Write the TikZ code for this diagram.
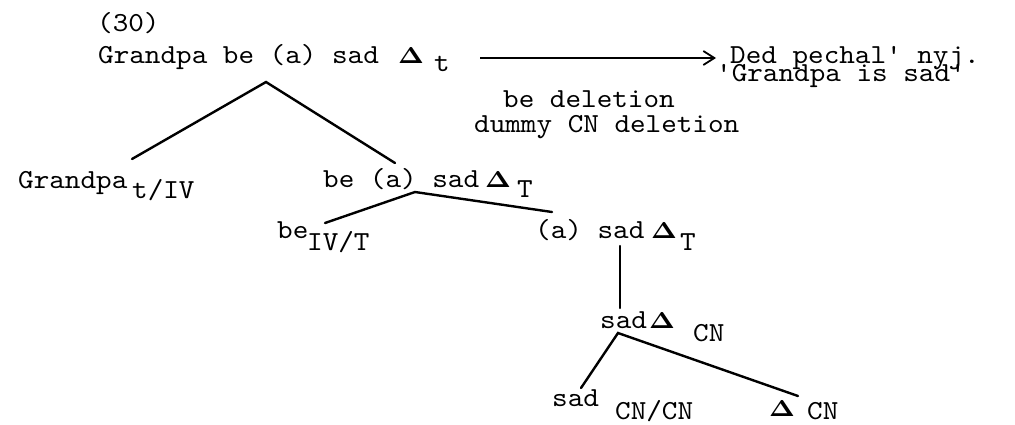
\documentclass[tikz,border=0pt]{standalone}
\usetikzlibrary{arrows.meta}
\newcommand{\mytw}[1]{\scalebox{2.97}[2.75]{\ttfamily\fontsize{10}{12}\selectfont #1}}
\newcommand{\mydelta}{\scalebox{2.7}[2.3]{$\mathbf{\Delta}$}}
\begin{document}
\begin{tikzpicture}[x=1pt,y=-1pt,
  txt/.style={inner sep=0pt, anchor=base west},
  branch/.style={line width=2.4pt, line cap=round},
  rulearrow/.style={line width=1.8pt, -{Straight Barb[length=11pt,width=14pt,line width=1.8pt]}}]
\useasboundingbox (0,0) rectangle (1015,424);
% example number
\node[txt] (num) at (97,31) {\mytw{(30)}};
% root
\node[txt] (root) at (98,63) {\mytw{Grandpa be (a) sad}};
\node[txt] (rootd) at (398,63) {\mydelta};
\node[txt] (roots) at (434,71) {\mytw{t}};
% rule arrow
\coordinate (arrS) at (480,58);
\coordinate (arrE) at (716,58);
\draw[rulearrow] (arrS) -- (arrE);
\node[txt] (ded) at (730,63) {\mytw{Ded pechal' nyj.}};
\node[txt] (gloss) at (716,81) {\mytw{'Grandpa is sad'}};
\node[txt] (rule1) at (503,107) {\mytw{be deletion}};
\node[txt] (rule2) at (474,132) {\mytw{dummy CN deletion}};
% level 1
\coordinate (ap1) at (266,82);
\coordinate (l1) at (132,159);
\coordinate (r1) at (395,163);
\draw[branch] (l1) -- (ap1) -- (r1);
\node[txt] (gp) at (18,188) {\mytw{Grandpa}};
\node[txt] (gps) at (132,198) {\mytw{t/IV}};
\node[txt] (bas) at (323,187) {\mytw{be (a) sad}};
\node[txt] (basd) at (485,187) {\mydelta};
\node[txt] (bass) at (517,197) {\mytw{T}};
% level 2
\coordinate (ap2) at (415,192);
\coordinate (l2) at (325,223);
\coordinate (r2) at (552,212);
\draw[branch] (l2) -- (ap2) -- (r2);
\node[txt] (be) at (277,238) {\mytw{be}};
\node[txt] (bes) at (307,250) {\mytw{IV/T}};
\node[txt] (as) at (535,238) {\mytw{(a) sad}};
\node[txt] (asd) at (651,238) {\mydelta};
\node[txt] (ass) at (680,250) {\mytw{T}};
% level 3
\coordinate (v1) at (620,246);
\coordinate (v2) at (620,308);
\draw[branch] (v1) -- (v2);
\node[txt] (sd) at (600,328) {\mytw{sad}};
\node[txt] (sdd) at (649,328) {\mydelta};
\node[txt] (sds) at (693,341) {\mytw{CN}};
% level 4
\coordinate (ap3) at (618,333);
\coordinate (l3) at (581,388);
\coordinate (r3) at (798,396);
\draw[branch] (l3) -- (ap3) -- (r3);
\node[txt] (s) at (552,406) {\mytw{sad}};
\node[txt] (ss) at (615,419) {\mytw{CN/CN}};
\node[txt] (d) at (769,416) {\mydelta};
\node[txt] (ds) at (807,419) {\mytw{CN}};
\end{tikzpicture}
\end{document}
